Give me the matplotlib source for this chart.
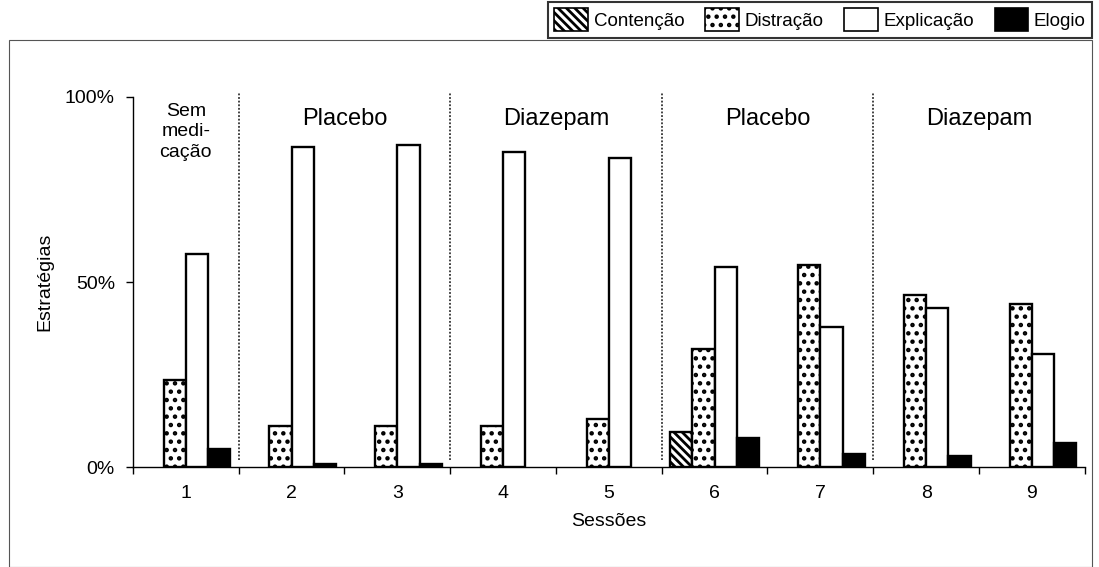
import matplotlib
matplotlib.use("Agg")
import matplotlib.pyplot as plt
import numpy as np
from matplotlib.patches import Rectangle, Patch

plt.rcParams['font.family'] = ['Liberation Sans', 'DejaVu Sans']
plt.rcParams['hatch.linewidth'] = 2.0

sessions = ['1', '2', '3', '4', '5', '6', '7', '8', '9']
contencao = [0, 0, 0, 0, 0, 9.5, 0, 0, 0]
distracao = [23.5, 11, 11, 11, 13, 32, 54.5, 46.5, 44]
explicacao = [57.5, 86.5, 87, 85, 83.5, 54, 38, 43, 30.5]
elogio = [5, 1, 1, 0, 0, 8, 3.5, 3, 6.5]
series_names = ['Contenção', 'Distração', 'Explicação', 'Elogio']
phase_labels = ['Sem\nmedi-\ncação', 'Placebo', 'Diazepam', 'Placebo', 'Diazepam']
phase_centers = [0, 1.5, 3.5, 5.5, 7.5]
separators = [0.5, 2.5, 4.5, 6.5]

fig = plt.figure(figsize=(10.99, 5.67), dpi=100)
ax = fig.add_axes([0.121, 0.176, 0.866, 0.653])

x = np.arange(len(sessions))
w = 0.21
styles = [
    dict(facecolor='white', hatch='\\\\\\\\'),
    dict(facecolor='white', hatch='..'),
    dict(facecolor='white', hatch=None),
    dict(facecolor='black', hatch=None),
]
data = [contencao, distracao, explicacao, elogio]
for i, (vals, st) in enumerate(zip(data, styles)):
    v = np.array(vals, dtype=float)
    v[v == 0] = np.nan
    ax.bar(x + (i - 1.5) * w, v, width=w, edgecolor='black', linewidth=1.7, **st)

ax.set_xlim(-0.5, 8.5)
ax.set_ylim(0, 100)
ax.set_xticks(np.arange(-0.5, 9, 1))
ax.set_xticklabels([])
ax.set_xticks(x, minor=True)
ax.set_xticklabels(sessions, minor=True, fontsize=14)
ax.tick_params(axis='x', which='minor', length=0, pad=13)
ax.tick_params(axis='x', which='major', length=5, width=1, direction='out')
ax.set_yticks([0, 50, 100])
ax.set_yticklabels(['0%', '50%', '100%'], fontsize=14)
ax.tick_params(axis='y', length=5, width=1, direction='out', pad=8)
for s in ['top', 'right']:
    ax.spines[s].set_visible(False)
ax.spines['left'].set_linewidth(1)
ax.spines['bottom'].set_linewidth(1)

for sx in separators:
    ax.plot([sx, sx], [2, 101], linestyle=(0, (1, 1)), color='#333333', linewidth=1.3, clip_on=False)

for c, lbl in zip(phase_centers, phase_labels):
    if '\n' in lbl:
        ax.text(c, 98.5, lbl, ha='center', va='top', fontsize=14, linespacing=1.3)
    else:
        ax.text(c, 94, lbl, ha='center', va='center', fontsize=17)

ax.set_xlabel('Sessões', fontsize=14, labelpad=8)
ax.set_ylabel('Estratégias', fontsize=14, labelpad=8)

# outer border
fig.patches.append(Rectangle((0.008, 0.0), 0.986, 0.929, transform=fig.transFigure,
                             fill=False, edgecolor='#555555', linewidth=0.8))

handles = [Patch(edgecolor='black', linewidth=1.2, **st) for st in styles]
leg = fig.legend(handles, series_names, loc='upper right', bbox_to_anchor=(0.994, 0.997),
                 ncol=4, frameon=True, fancybox=False, fontsize=13.5, handlelength=1.8,
                 handleheight=1.5, handletextpad=0.3, columnspacing=1.1, borderpad=0.35,
                 borderaxespad=0)
leg.get_frame().set_edgecolor('black')
leg.get_frame().set_linewidth(1.5)

fig.savefig('out.png', dpi=100)
